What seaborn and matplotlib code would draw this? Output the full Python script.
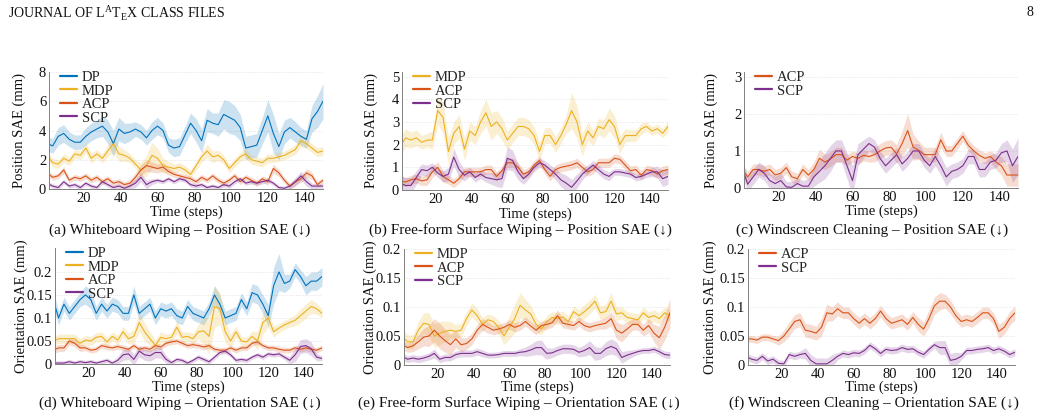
import numpy as np
import seaborn as sns
import matplotlib
matplotlib.use('Agg')
import matplotlib.pyplot as plt

# time axis, sampled every 3 steps
steps = np.arange(0, 151, 3)

# (a) whiteboard wiping - position SAE (mm): mean and half band
wb_pos_dp = [3.1, 2.95, 3.6, 3.8, 3.4, 3.2, 3.2, 3.6, 3.9, 4.1, 4.3, 3.9, 3.1, 4.1, 3.8, 3.9, 4.1, 3.9, 3.5, 4.0,
             4.3, 4.0, 3.0, 2.8, 2.9, 3.7, 4.5, 4.0, 3.3, 4.7, 4.5, 4.4, 5.1, 4.9, 4.7, 4.2, 2.8, 2.9, 3.0, 4.0,
             5.0, 3.8, 2.9, 3.9, 4.2, 3.9, 3.6, 3.4, 4.8, 5.3, 6.0]
wb_pos_dp_sd = [0.5, 0.5, 0.6, 0.6, 0.5, 0.5, 0.5, 0.6, 0.6, 0.6, 0.7, 0.8, 0.9, 0.8, 0.7, 0.6, 0.5, 0.5, 0.5, 0.6,
                0.6, 0.5, 0.5, 0.6, 0.6, 0.6, 0.7, 0.8, 0.8, 0.8, 0.7, 0.8, 1.0, 1.1, 1.0, 0.9, 0.8, 0.8, 0.8, 0.9,
                1.1, 1.3, 0.9, 0.8, 0.7, 0.7, 0.6, 0.6, 0.9, 1.1, 1.2]
wb_pos_mdp = [2.3, 1.8, 1.7, 2.1, 1.9, 2.4, 2.3, 2.8, 2.1, 2.4, 2.1, 2.6, 3.1, 2.4, 2.3, 2.1, 1.7, 1.3, 1.6, 2.3,
              2.1, 1.6, 1.5, 1.4, 1.5, 1.3, 1.0, 1.6, 2.2, 2.6, 2.2, 2.3, 2.0, 1.4, 1.8, 2.2, 2.4, 2.0, 1.9, 1.8,
              2.1, 2.1, 2.2, 2.3, 2.5, 2.7, 3.3, 3.1, 2.8, 2.5, 2.6]
wb_pos_mdp_sd = [0.3, 0.3, 0.3, 0.3, 0.3, 0.3, 0.3, 0.35, 0.35, 0.3, 0.3, 0.4, 0.6, 0.5, 0.4, 0.3, 0.3, 0.5, 0.7, 0.9,
                 0.7, 0.5, 0.4, 0.3, 0.3, 0.3, 0.3, 0.3, 0.35, 0.45, 0.4, 0.35, 0.3, 0.3, 0.3, 0.3, 0.35, 0.3, 0.3, 0.3,
                 0.3, 0.3, 0.3, 0.3, 0.3, 0.35, 0.4, 0.35, 0.3, 0.3, 0.3]
wb_pos_acp = [1.1, 0.8, 0.9, 1.3, 0.6, 0.8, 0.7, 0.9, 0.6, 0.8, 0.5, 0.7, 0.4, 0.5, 0.3, 0.4, 0.8, 1.3, 1.6, 1.5,
              1.4, 1.5, 1.2, 1.0, 0.9, 0.8, 0.7, 0.5, 0.8, 0.6, 0.9, 0.6, 0.4, 0.6, 0.9, 0.5, 0.8, 0.6, 0.4, 0.7,
              0.5, 1.4, 1.1, 0.6, 0.2, 0.5, 0.7, 1.1, 0.9, 0.3, 0.6]
wb_pos_acp_sd = [0.25, 0.2, 0.2, 0.25, 0.2, 0.2, 0.2, 0.2, 0.2, 0.2, 0.2, 0.2, 0.2, 0.2, 0.2, 0.25, 0.3, 0.35, 0.4, 0.35,
                 0.3, 0.3, 0.25, 0.2, 0.2, 0.2, 0.2, 0.2, 0.2, 0.2, 0.2, 0.2, 0.2, 0.2, 0.2, 0.2, 0.2, 0.2, 0.2, 0.2,
                 0.25, 0.3, 0.25, 0.2, 0.2, 0.2, 0.25, 0.3, 0.25, 0.2, 0.2]
wb_pos_scp = [0.4, 0.2, 0.1, 0.5, 0.2, 0.3, 0.1, 0.4, 0.2, 0.1, 0.5, 0.3, 0.1, 0.2, 0.05, 0.2, 0.4, 0.8, 0.3, 0.5,
              0.6, 0.5, 0.7, 0.5, 0.7, 0.6, 0.3, 0.2, 0.3, 0.1, 0.2, 0.1, 0.3, 0.2, 0.5, 0.7, 0.4, 0.5, 0.4, 0.5,
              0.6, 0.4, 0.1, 0.05, 0.2, 0.5, 0.9, 0.5, 0.2, 0.2, 0.2]
wb_pos_scp_sd = [0.15, 0.15, 0.15, 0.15, 0.15, 0.15, 0.15, 0.15, 0.15, 0.15, 0.15, 0.15, 0.15, 0.15, 0.15, 0.2, 0.3, 0.3, 0.3, 0.2,
                 0.15, 0.15, 0.15, 0.15, 0.15, 0.15, 0.15, 0.15, 0.15, 0.15, 0.15, 0.15, 0.15, 0.15, 0.15, 0.15, 0.15, 0.15, 0.15, 0.15,
                 0.15, 0.15, 0.15, 0.15, 0.2, 0.3, 0.3, 0.3, 0.2, 0.15, 0.15]

# (b) free-form surface wiping - position SAE (mm)
ff_pos_mdp = [1.9, 2.3, 2.2, 2.3, 2.1, 2.2, 2.2, 3.5, 3.2, 1.7, 2.5, 2.8, 1.8, 2.6, 2.4, 3.0, 3.4, 2.8, 3.0, 2.7,
              2.2, 2.5, 2.8, 2.8, 2.7, 2.4, 1.7, 2.4, 2.4, 2.0, 2.4, 2.9, 3.5, 3.0, 2.0, 2.6, 2.3, 2.8, 2.7, 3.1,
              2.8, 2.0, 2.4, 2.4, 2.4, 2.7, 2.8, 2.6, 2.7, 2.5, 2.8]
ff_pos_mdp_sd = [0.4, 0.4, 0.35, 0.35, 0.3, 0.3, 0.4, 0.6, 0.7, 0.6, 0.5, 0.5, 0.5, 0.4, 0.4, 0.5, 0.6, 0.6, 0.5, 0.5,
                 0.4, 0.4, 0.4, 0.4, 0.4, 0.4, 0.4, 0.35, 0.35, 0.35, 0.35, 0.4, 0.8, 0.7, 0.5, 0.4, 0.35, 0.35, 0.4, 0.5,
                 0.5, 0.4, 0.3, 0.25, 0.25, 0.25, 0.2, 0.2, 0.2, 0.2, 0.25]
ff_pos_acp = [0.4, 0.35, 0.45, 0.5, 0.4, 0.45, 0.8, 1.0, 0.6, 0.45, 0.3, 0.5, 0.8, 0.8, 0.8, 0.8, 0.9, 0.9, 0.6, 0.85,
              1.2, 1.2, 1.0, 0.7, 0.8, 1.1, 1.3, 0.9, 0.6, 0.9, 1.0, 1.05, 1.1, 1.2, 1.0, 0.8, 0.9, 1.2, 1.2, 1.2,
              1.4, 1.35, 1.1, 0.85, 0.9, 0.65, 0.9, 0.85, 0.7, 0.85, 0.9]
ff_pos_acp_sd = [0.2, 0.2, 0.2, 0.2, 0.2, 0.25, 0.25, 0.25, 0.25, 0.2, 0.2, 0.2, 0.2, 0.2, 0.2, 0.2, 0.2, 0.2, 0.2, 0.2,
                 0.2, 0.2, 0.2, 0.2, 0.2, 0.2, 0.2, 0.2, 0.2, 0.2, 0.2, 0.2, 0.2, 0.2, 0.2, 0.2, 0.2, 0.2, 0.2, 0.2,
                 0.2, 0.2, 0.2, 0.2, 0.2, 0.2, 0.2, 0.2, 0.2, 0.2, 0.2]
ff_pos_scp = [0.3, 0.2, 0.2, 0.55, 0.9, 0.85, 1.0, 0.75, 0.6, 0.7, 1.45, 0.9, 0.65, 0.8, 0.55, 0.7, 0.55, 0.5, 0.45, 0.5,
              1.4, 1.3, 0.8, 0.5, 0.7, 1.0, 1.2, 1.1, 0.9, 0.7, 0.45, 0.3, 0.12, 0.4, 0.7, 0.9, 1.1, 0.9, 0.7, 0.6,
              0.8, 0.8, 0.75, 0.7, 0.55, 0.6, 0.7, 0.8, 0.8, 0.5, 0.6]
ff_pos_scp_sd = [0.35, 0.35, 0.35, 0.3, 0.25, 0.25, 0.2, 0.2, 0.25, 0.3, 0.4, 0.35, 0.25, 0.2, 0.2, 0.2, 0.2, 0.25, 0.3, 0.4,
                 0.5, 0.45, 0.35, 0.25, 0.2, 0.2, 0.2, 0.2, 0.2, 0.25, 0.3, 0.35, 0.35, 0.3, 0.25, 0.2, 0.2, 0.2, 0.2, 0.2,
                 0.15, 0.15, 0.15, 0.15, 0.15, 0.15, 0.15, 0.2, 0.25, 0.35, 0.35]

# (c) windscreen cleaning - position SAE (mm)
ws_pos_acp = [0.5, 0.3, 0.5, 0.5, 0.45, 0.5, 0.35, 0.4, 0.55, 0.3, 0.25, 0.5, 0.35, 0.5, 0.8, 0.7, 0.78, 0.9, 0.9, 0.75,
              0.85, 0.8, 0.88, 0.85, 0.9, 1.0, 1.08, 1.1, 0.92, 1.2, 1.55, 1.1, 1.02, 0.9, 0.9, 0.9, 1.3, 1.0, 1.0, 1.2,
              1.4, 1.15, 1.0, 0.88, 0.8, 0.85, 0.7, 0.6, 0.35, 0.35, 0.35]
ws_pos_acp_sd = [0.15, 0.15, 0.15, 0.15, 0.15, 0.15, 0.15, 0.15, 0.15, 0.15, 0.15, 0.15, 0.15, 0.2, 0.25, 0.2, 0.2, 0.2, 0.2, 0.15,
                 0.15, 0.15, 0.15, 0.15, 0.2, 0.2, 0.2, 0.2, 0.25, 0.35, 0.45, 0.35, 0.25, 0.2, 0.2, 0.2, 0.2, 0.15, 0.15, 0.15,
                 0.15, 0.15, 0.15, 0.15, 0.15, 0.15, 0.2, 0.25, 0.3, 0.3, 0.3]
ws_pos_scp = [0.55, 0.1, 0.3, 0.5, 0.4, 0.2, 0.12, 0.2, 0.03, 0.02, 0.12, 0.05, 0.05, 0.3, 0.45, 0.6, 0.8, 1.0, 1.0, 0.6,
              0.2, 0.9, 1.05, 1.2, 1.1, 0.8, 0.6, 0.75, 0.9, 0.65, 0.8, 1.0, 1.0, 0.75, 0.6, 0.85, 0.6, 0.3, 0.45, 0.5,
              0.6, 0.85, 0.85, 0.5, 0.5, 0.7, 0.75, 0.95, 1.0, 0.6, 0.85]
ws_pos_scp_sd = [0.2, 0.2, 0.2, 0.2, 0.2, 0.2, 0.2, 0.2, 0.15, 0.15, 0.15, 0.15, 0.2, 0.25, 0.3, 0.35, 0.35, 0.3, 0.3, 0.35,
                 0.4, 0.3, 0.25, 0.2, 0.2, 0.2, 0.2, 0.2, 0.2, 0.2, 0.2, 0.2, 0.2, 0.2, 0.2, 0.25, 0.25, 0.25, 0.2, 0.2,
                 0.2, 0.2, 0.2, 0.2, 0.2, 0.2, 0.2, 0.25, 0.3, 0.45, 0.5]

# (d) whiteboard wiping - orientation SAE
wb_ori_dp = [0.14, 0.10, 0.13, 0.11, 0.125, 0.14, 0.15, 0.14, 0.11, 0.13, 0.115, 0.13, 0.125, 0.11, 0.11, 0.15, 0.11, 0.12, 0.13, 0.10,
             0.12, 0.115, 0.12, 0.105, 0.10, 0.125, 0.11, 0.105, 0.10, 0.12, 0.15, 0.13, 0.10, 0.105, 0.11, 0.14, 0.12, 0.155, 0.15, 0.13,
             0.105, 0.17, 0.20, 0.175, 0.18, 0.205, 0.19, 0.17, 0.18, 0.18, 0.19]
wb_ori_dp_sd = [0.02, 0.015, 0.015, 0.015, 0.015, 0.015, 0.02, 0.02, 0.015, 0.015, 0.015, 0.015, 0.015, 0.015, 0.015, 0.02, 0.015, 0.015, 0.015, 0.015,
                0.015, 0.015, 0.015, 0.015, 0.015, 0.015, 0.015, 0.015, 0.015, 0.015, 0.02, 0.02, 0.015, 0.015, 0.015, 0.015, 0.015, 0.02, 0.02, 0.02,
                0.025, 0.04, 0.04, 0.02, 0.015, 0.015, 0.015, 0.02, 0.02, 0.02, 0.02]
wb_ori_mdp = [0.05, 0.055, 0.055, 0.055, 0.055, 0.045, 0.052, 0.05, 0.058, 0.06, 0.048, 0.06, 0.052, 0.07, 0.055, 0.06, 0.09, 0.07, 0.055, 0.04,
              0.058, 0.055, 0.058, 0.08, 0.058, 0.06, 0.055, 0.07, 0.072, 0.06, 0.125, 0.12, 0.07, 0.05, 0.07, 0.05, 0.048, 0.06, 0.05, 0.09,
              0.1, 0.07, 0.078, 0.085, 0.09, 0.095, 0.105, 0.115, 0.125, 0.12, 0.11]
wb_ori_mdp_sd = [0.01, 0.01, 0.01, 0.01, 0.01, 0.01, 0.01, 0.01, 0.01, 0.01, 0.01, 0.01, 0.01, 0.012, 0.012, 0.015, 0.02, 0.02, 0.015, 0.012,
                 0.012, 0.01, 0.01, 0.015, 0.012, 0.01, 0.012, 0.015, 0.03, 0.04, 0.045, 0.035, 0.025, 0.015, 0.012, 0.01, 0.01, 0.012, 0.02, 0.025,
                 0.02, 0.012, 0.01, 0.01, 0.01, 0.012, 0.015, 0.015, 0.015, 0.012, 0.01]
wb_ori_acp = [0.03, 0.035, 0.035, 0.05, 0.045, 0.035, 0.035, 0.03, 0.032, 0.04, 0.037, 0.035, 0.038, 0.035, 0.032, 0.04, 0.032, 0.035, 0.032, 0.04,
              0.037, 0.045, 0.048, 0.05, 0.045, 0.04, 0.042, 0.04, 0.037, 0.04, 0.032, 0.03, 0.03, 0.035, 0.03, 0.035, 0.035, 0.045, 0.048, 0.04,
              0.035, 0.035, 0.032, 0.03, 0.03, 0.035, 0.032, 0.035, 0.032, 0.03, 0.035]
wb_ori_acp_sd = [0.008, 0.008, 0.008, 0.008, 0.008, 0.008, 0.006, 0.006, 0.006, 0.006, 0.006, 0.006, 0.006, 0.006, 0.006, 0.006, 0.006, 0.006, 0.006, 0.006,
                 0.006, 0.006, 0.006, 0.006, 0.006, 0.006, 0.006, 0.006, 0.006, 0.006, 0.006, 0.006, 0.006, 0.006, 0.006, 0.006, 0.006, 0.006, 0.006, 0.006,
                 0.006, 0.006, 0.006, 0.006, 0.006, 0.006, 0.006, 0.006, 0.006, 0.006, 0.006]
wb_ori_scp = [0.002, 0.002, 0.002, 0.005, 0.002, 0.005, 0.003, 0.005, 0.002, 0.005, 0.008, 0.002, 0.008, 0.02, 0.022, 0.01, 0.028, 0.02, 0.018, 0.025,
              0.025, 0.01, 0.003, 0.01, 0.008, 0.002, 0.008, 0.015, 0.01, 0.005, 0.015, 0.025, 0.028, 0.02, 0.008, 0.01, 0.008, 0.015, 0.02, 0.015,
              0.022, 0.02, 0.022, 0.015, 0.008, 0.02, 0.038, 0.04, 0.033, 0.015, 0.012]
wb_ori_scp_sd = [0.005, 0.005, 0.005, 0.005, 0.005, 0.005, 0.005, 0.005, 0.005, 0.005, 0.005, 0.005, 0.008, 0.012, 0.012, 0.012, 0.012, 0.012, 0.012, 0.012,
                 0.012, 0.008, 0.005, 0.005, 0.005, 0.005, 0.005, 0.005, 0.005, 0.005, 0.005, 0.005, 0.005, 0.005, 0.005, 0.005, 0.005, 0.005, 0.005, 0.005,
                 0.005, 0.005, 0.005, 0.005, 0.008, 0.015, 0.015, 0.015, 0.015, 0.008, 0.005]

# (e) free-form surface wiping - orientation SAE
ff_ori_mdp = [0.05, 0.04, 0.04, 0.06, 0.072, 0.07, 0.05, 0.055, 0.058, 0.06, 0.058, 0.06, 0.08, 0.095, 0.085, 0.07, 0.078, 0.075, 0.065, 0.05,
              0.065, 0.08, 0.103, 0.095, 0.088, 0.07, 0.062, 0.075, 0.082, 0.08, 0.083, 0.075, 0.092, 0.085, 0.092, 0.1, 0.11, 0.09, 0.092, 0.11,
              0.088, 0.09, 0.082, 0.08, 0.078, 0.09, 0.082, 0.085, 0.08, 0.09, 0.085]
ff_ori_mdp_sd = [0.012, 0.012, 0.012, 0.015, 0.018, 0.02, 0.02, 0.02, 0.018, 0.015, 0.012, 0.012, 0.012, 0.012, 0.012, 0.012, 0.01, 0.01, 0.012, 0.015,
                 0.02, 0.025, 0.022, 0.018, 0.015, 0.012, 0.01, 0.01, 0.01, 0.01, 0.01, 0.01, 0.01, 0.01, 0.012, 0.012, 0.012, 0.012, 0.012, 0.015,
                 0.012, 0.01, 0.01, 0.01, 0.01, 0.01, 0.01, 0.01, 0.01, 0.01, 0.01]
ff_ori_acp = [0.035, 0.03, 0.033, 0.04, 0.048, 0.05, 0.06, 0.05, 0.042, 0.035, 0.045, 0.035, 0.037, 0.045, 0.06, 0.07, 0.065, 0.06, 0.062, 0.065,
              0.07, 0.065, 0.068, 0.075, 0.067, 0.06, 0.068, 0.07, 0.073, 0.085, 0.072, 0.07, 0.068, 0.075, 0.068, 0.065, 0.068, 0.07, 0.072, 0.08,
              0.06, 0.055, 0.062, 0.07, 0.07, 0.06, 0.068, 0.055, 0.047, 0.065, 0.09]
ff_ori_acp_sd = [0.008, 0.008, 0.01, 0.012, 0.015, 0.018, 0.02, 0.022, 0.02, 0.018, 0.015, 0.012, 0.01, 0.01, 0.01, 0.01, 0.01, 0.008, 0.008, 0.008,
                 0.008, 0.008, 0.008, 0.008, 0.008, 0.008, 0.008, 0.008, 0.008, 0.01, 0.008, 0.008, 0.008, 0.008, 0.008, 0.008, 0.008, 0.008, 0.01, 0.012,
                 0.015, 0.015, 0.012, 0.01, 0.01, 0.01, 0.012, 0.015, 0.02, 0.022, 0.025]
ff_ori_scp = [0.015, 0.01, 0.012, 0.01, 0.012, 0.015, 0.02, 0.01, 0.013, 0.013, 0.018, 0.02, 0.02, 0.02, 0.023, 0.02, 0.017, 0.017, 0.018, 0.02,
              0.02, 0.02, 0.022, 0.023, 0.026, 0.03, 0.03, 0.02, 0.021, 0.025, 0.028, 0.028, 0.027, 0.022, 0.025, 0.03, 0.02, 0.02, 0.028, 0.032,
              0.028, 0.013, 0.017, 0.02, 0.023, 0.025, 0.025, 0.027, 0.023, 0.018, 0.017]
ff_ori_scp_sd = [0.006, 0.006, 0.006, 0.006, 0.006, 0.006, 0.008, 0.006, 0.006, 0.006, 0.006, 0.006, 0.006, 0.006, 0.006, 0.006, 0.005, 0.005, 0.005, 0.005,
                 0.005, 0.005, 0.006, 0.008, 0.01, 0.012, 0.013, 0.01, 0.008, 0.008, 0.008, 0.008, 0.008, 0.008, 0.01, 0.012, 0.012, 0.01, 0.012, 0.013,
                 0.012, 0.01, 0.008, 0.006, 0.005, 0.005, 0.005, 0.005, 0.006, 0.006, 0.006]

# (f) windscreen cleaning - orientation SAE
ws_ori_acp = [0.045, 0.045, 0.043, 0.048, 0.048, 0.045, 0.042, 0.05, 0.062, 0.075, 0.078, 0.06, 0.058, 0.055, 0.065, 0.09, 0.088, 0.097, 0.09, 0.09,
              0.08, 0.072, 0.08, 0.072, 0.08, 0.093, 0.08, 0.072, 0.075, 0.078, 0.07, 0.082, 0.07, 0.062, 0.08, 0.102, 0.11, 0.11, 0.1, 0.085,
              0.075, 0.078, 0.075, 0.082, 0.09, 0.09, 0.08, 0.058, 0.065, 0.08, 0.09]
ws_ori_acp_sd = [0.006, 0.006, 0.006, 0.006, 0.006, 0.006, 0.008, 0.01, 0.012, 0.012, 0.012, 0.012, 0.012, 0.012, 0.015, 0.015, 0.012, 0.012, 0.01, 0.01,
                 0.01, 0.01, 0.01, 0.01, 0.01, 0.01, 0.01, 0.01, 0.01, 0.01, 0.01, 0.01, 0.012, 0.012, 0.015, 0.015, 0.015, 0.012, 0.012, 0.01,
                 0.01, 0.01, 0.01, 0.01, 0.01, 0.01, 0.01, 0.012, 0.012, 0.012, 0.012]
ws_ori_scp = [0.015, 0.01, 0.008, 0.015, 0.007, 0.01, 0.003, 0.002, 0.018, 0.015, 0.018, 0.02, 0.008, 0.002, 0.002, 0.002, 0.008, 0.015, 0.02, 0.018,
              0.021, 0.02, 0.025, 0.034, 0.028, 0.02, 0.027, 0.025, 0.026, 0.03, 0.027, 0.028, 0.022, 0.018, 0.027, 0.035, 0.03, 0.03, 0.008, 0.01,
              0.015, 0.025, 0.025, 0.027, 0.028, 0.03, 0.025, 0.028, 0.024, 0.018, 0.022]
ws_ori_scp_sd = [0.006, 0.006, 0.006, 0.006, 0.006, 0.006, 0.006, 0.006, 0.006, 0.006, 0.006, 0.01, 0.01, 0.01, 0.01, 0.01, 0.01, 0.006, 0.006, 0.006,
                 0.006, 0.006, 0.006, 0.006, 0.006, 0.006, 0.006, 0.006, 0.006, 0.006, 0.006, 0.006, 0.006, 0.006, 0.006, 0.006, 0.012, 0.012, 0.012, 0.012,
                 0.006, 0.006, 0.006, 0.006, 0.006, 0.006, 0.006, 0.006, 0.006, 0.006, 0.006]

colors = {'DP': '#0072BD', 'MDP': '#EDB120', 'ACP': '#D95319', 'SCP': '#7E2F8E'}

pos_ticks = [[0, 2, 4, 6, 8], [0, 1, 2, 3, 4, 5], [0, 1, 2, 3]]
ori_ticks = [0, 0.05, 0.1, 0.15, 0.2]
ori_ticklabels = ['0', '0.05', '0.1', '0.15', '0.2']

captions = ['(a) Whiteboard Wiping \u2013 Position SAE (\u2193)',
            '(b) Free-form Surface Wiping \u2013 Position SAE (\u2193)',
            '(c) Windscreen Cleaning \u2013 Position SAE (\u2193)',
            '(d) Whiteboard Wiping \u2013 Orientation SAE (\u2193)',
            '(e) Free-form Surface Wiping \u2013 Orientation SAE (\u2193)',
            '(f) Windscreen Cleaning \u2013 Orientation SAE (\u2193)']

sns.set_theme(style='white')
serif = ['Liberation Serif', 'DejaVu Serif']
plt.rcParams['font.family'] = serif
plt.rcParams['mathtext.fontset'] = 'custom'
plt.rcParams['mathtext.rm'] = 'Liberation Serif'

W, H = 1041, 416
fig = plt.figure(figsize=(W / 100, H / 100), dpi=100)


def add_ax(left, right, top, bottom):
    return fig.add_axes([left / W, 1 - bottom / H, (right - left) / W, (bottom - top) / H])


def draw_panel(ax, series, ylim, yticks, yticklabels, ylabel, ylab_x, xlab_y):
    for name, mean, sd in series:
        c = colors[name]
        mean = np.array(mean)
        sd = np.array(sd)
        ax.fill_between(steps, mean - sd, mean + sd, color=c, alpha=0.2, lw=0)
        sns.lineplot(x=steps, y=mean, ax=ax, color=c, lw=0.8, label=name)
    ax.set_xlim(1, 150)
    ax.set_ylim(*ylim)
    ax.set_xticks([20, 40, 60, 80, 100, 120, 140])
    ax.set_yticks(yticks)
    ax.set_yticklabels(yticklabels)
    ax.tick_params(axis='both', direction='in', labelsize=10.5, colors='#808080', labelcolor='#111111', pad=2)
    ax.tick_params(axis='y', length=3, width=0.6)
    ax.tick_params(axis='x', length=0)
    for s in ['top', 'right']:
        ax.spines[s].set_visible(False)
    for s in ['left', 'bottom']:
        ax.spines[s].set_color('#808080')
        ax.spines[s].set_linewidth(0.7)
    ax.yaxis.grid(True, color='#dddddd', ls=':', lw=0.6)
    ax.set_axisbelow(True)
    ax.set_xlabel('Time (steps)', fontsize=10.5, color='#111111')
    ax.set_ylabel(ylabel, fontsize=10.5, color='#111111')
    ax.xaxis.set_label_coords(0.5, xlab_y)
    ax.yaxis.set_label_coords(ylab_x, 0.5)
    leg = ax.legend(loc='upper left', bbox_to_anchor=(0.04, 1.01), frameon=False, fontsize=10.5,
                    handlelength=1.2, handletextpad=0.3, labelspacing=0.02, borderpad=0, borderaxespad=0)
    for line in leg.get_lines():
        line.set_linewidth(1.6)
        line.set_alpha(1)


ax = add_ax(49, 323, 72, 189)
draw_panel(ax, [('DP', wb_pos_dp, wb_pos_dp_sd), ('MDP', wb_pos_mdp, wb_pos_mdp_sd),
                ('ACP', wb_pos_acp, wb_pos_acp_sd), ('SCP', wb_pos_scp, wb_pos_scp_sd)],
           (0, 8), pos_ticks[0], [str(t) for t in pos_ticks[0]], 'Position SAE (mm)', -0.085, -0.145)

ax = add_ax(402, 668, 72, 190)
draw_panel(ax, [('MDP', ff_pos_mdp, ff_pos_mdp_sd), ('ACP', ff_pos_acp, ff_pos_acp_sd),
                ('SCP', ff_pos_scp, ff_pos_scp_sd)],
           (0, 5.2), pos_ticks[1], [str(t) for t in pos_ticks[1]], 'Position SAE (mm)', -0.09, -0.145)

ax = add_ax(744, 1018, 72, 188)
draw_panel(ax, [('ACP', ws_pos_acp, ws_pos_acp_sd), ('SCP', ws_pos_scp, ws_pos_scp_sd)],
           (0, 3.13), pos_ticks[2], [str(t) for t in pos_ticks[2]], 'Position SAE (mm)', -0.095, -0.145)

ax = add_ax(55, 322, 248, 364)
draw_panel(ax, [('DP', wb_ori_dp, wb_ori_dp_sd), ('MDP', wb_ori_mdp, wb_ori_mdp_sd),
                ('ACP', wb_ori_acp, wb_ori_acp_sd), ('SCP', wb_ori_scp, wb_ori_scp_sd)],
           (0, 0.252), ori_ticks, ori_ticklabels, 'Orientation SAE (mm)', -0.10, -0.14)

ax = add_ax(404, 670, 249, 365)
draw_panel(ax, [('MDP', ff_ori_mdp, ff_ori_mdp_sd), ('ACP', ff_ori_acp, ff_ori_acp_sd),
                ('SCP', ff_ori_scp, ff_ori_scp_sd)],
           (0, 0.2), ori_ticks, ori_ticklabels, 'Orientation SAE (mm)', -0.10, -0.135)

ax = add_ax(748, 1015, 249, 365)
draw_panel(ax, [('ACP', ws_ori_acp, ws_ori_acp_sd), ('SCP', ws_ori_scp, ws_ori_scp_sd)],
           (0, 0.2), ori_ticks, ori_ticklabels, 'Orientation SAE (mm)', -0.115, -0.135)

cap_pos = [(180, 230), (520, 230), (872, 230), (180, 403), (519, 403), (874, 403)]
for (cx, cy), cap in zip(cap_pos, captions):
    fig.text(cx / W, 1 - cy / H, cap, ha='center', va='center', fontsize=11, color='#111111')

fig.text(8 / W, 1 - 12 / H, r'JOURNAL OF L$^{\rm A}$T$_{\rm E}$X CLASS FILES', ha='left', va='center',
         fontsize=10, color='#111111')
fig.text(1033 / W, 1 - 12 / H, '8', ha='right', va='center', fontsize=10, color='#111111')

plt.savefig('out.png', dpi=100)
